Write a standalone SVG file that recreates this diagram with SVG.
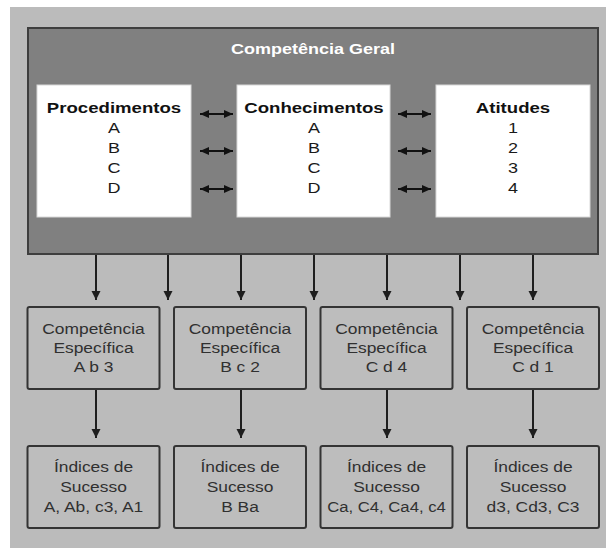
<svg xmlns="http://www.w3.org/2000/svg" width="606" height="549" viewBox="0 0 606 549">
<style>
.bg{fill:#bbbbbb}
.dark{fill:#808080;stroke:#3e3e3e;stroke-width:2}
.white{fill:#ffffff;stroke:#d8d8d8;stroke-width:1}
.box{fill:#bdbdbd;stroke:#343434;stroke-width:2}
text{font-family:"Liberation Sans",Arial,Helvetica,sans-serif;text-anchor:middle}
.title{font-size:15px;font-weight:bold;fill:#ffffff}
.head{font-size:15.5px;font-weight:bold;fill:#111}
.item{font-size:15px;fill:#1a1a1a}
.lbl{font-size:14.5px;fill:#303030}
.arr{stroke:#1e1e1e;stroke-width:2;fill:none}
.dbl{stroke:#111;stroke-width:2.2;fill:none;marker-start:url(#ah2);marker-end:url(#ah2)}
.down{marker-end:url(#ah)}
</style>
<defs>
<marker id="ah" markerUnits="userSpaceOnUse" markerWidth="9" markerHeight="10" refX="9" refY="5" orient="auto"><path d="M0,0.5 L9,5 L0,9.5 z" fill="#1e1e1e"/></marker>
<marker id="ah2" markerUnits="userSpaceOnUse" markerWidth="9" markerHeight="9" refX="9" refY="4.5" orient="auto-start-reverse"><path d="M0,0.5 L9,4.5 L0,8.5 z" fill="#111"/></marker>
</defs>
<rect class="bg" x="10" y="7" width="596" height="541"/>
<g id="competencia-geral">
<rect class="dark" x="28" y="28" width="570" height="226"/>
<text class="title" transform="translate(313,54) scale(1.2,1)">Competência Geral</text>
</g>
<g id="procedimentos">
<rect class="white" x="37" y="85" width="154" height="132"/>
<text class="head" transform="translate(114,113) scale(1.2,1)">Procedimentos</text>
<text class="item" transform="translate(114,133) scale(1.2,1)">A</text>
<text class="item" transform="translate(114,153) scale(1.2,1)">B</text>
<text class="item" transform="translate(114,173) scale(1.2,1)">C</text>
<text class="item" transform="translate(114,193) scale(1.2,1)">D</text>
</g>
<g id="conhecimentos">
<rect class="white" x="237" y="85" width="153" height="132"/>
<text class="head" transform="translate(314,113) scale(1.2,1)">Conhecimentos</text>
<text class="item" transform="translate(314,133) scale(1.2,1)">A</text>
<text class="item" transform="translate(314,153) scale(1.2,1)">B</text>
<text class="item" transform="translate(314,173) scale(1.2,1)">C</text>
<text class="item" transform="translate(314,193) scale(1.2,1)">D</text>
</g>
<g id="atitudes">
<rect class="white" x="436" y="85" width="154" height="132"/>
<text class="head" transform="translate(513,113) scale(1.2,1)">Atitudes</text>
<text class="item" transform="translate(513,133) scale(1.2,1)">1</text>
<text class="item" transform="translate(513,153) scale(1.2,1)">2</text>
<text class="item" transform="translate(513,173) scale(1.2,1)">3</text>
<text class="item" transform="translate(513,193) scale(1.2,1)">4</text>
</g>
<g id="ce1">
<rect class="box" x="27.5" y="307" width="132" height="82" rx="2"/>
<text class="lbl" transform="translate(93.5,334) scale(1.2,1)">Competência</text>
<text class="lbl" transform="translate(93.5,353) scale(1.2,1)">Específica</text>
<text class="lbl" transform="translate(93.5,372) scale(1.2,1)">A b 3</text>
</g>
<g id="ce2">
<rect class="box" x="174" y="307" width="132" height="82" rx="2"/>
<text class="lbl" transform="translate(240,334) scale(1.2,1)">Competência</text>
<text class="lbl" transform="translate(240,353) scale(1.2,1)">Específica</text>
<text class="lbl" transform="translate(240,372) scale(1.2,1)">B c 2</text>
</g>
<g id="ce3">
<rect class="box" x="320.5" y="307" width="132" height="82" rx="2"/>
<text class="lbl" transform="translate(386.5,334) scale(1.2,1)">Competência</text>
<text class="lbl" transform="translate(386.5,353) scale(1.2,1)">Específica</text>
<text class="lbl" transform="translate(386.5,372) scale(1.2,1)">C d 4</text>
</g>
<g id="ce4">
<rect class="box" x="467" y="307" width="132" height="82" rx="2"/>
<text class="lbl" transform="translate(533,334) scale(1.2,1)">Competência</text>
<text class="lbl" transform="translate(533,353) scale(1.2,1)">Específica</text>
<text class="lbl" transform="translate(533,372) scale(1.2,1)">C d 1</text>
</g>
<g id="is1">
<rect class="box" x="27.5" y="446" width="132" height="82" rx="2"/>
<text class="lbl" transform="translate(93.5,472) scale(1.2,1)">Índices de</text>
<text class="lbl" transform="translate(93.5,492) scale(1.2,1)">Sucesso</text>
<text class="lbl" transform="translate(93.5,512) scale(1.2,1)">A, Ab, c3, A1</text>
</g>
<g id="is2">
<rect class="box" x="174" y="446" width="132" height="82" rx="2"/>
<text class="lbl" transform="translate(240,472) scale(1.2,1)">Índices de</text>
<text class="lbl" transform="translate(240,492) scale(1.2,1)">Sucesso</text>
<text class="lbl" transform="translate(240,512) scale(1.2,1)">B Ba</text>
</g>
<g id="is3">
<rect class="box" x="320.5" y="446" width="132" height="82" rx="2"/>
<text class="lbl" transform="translate(386.5,472) scale(1.2,1)">Índices de</text>
<text class="lbl" transform="translate(386.5,492) scale(1.2,1)">Sucesso</text>
<text class="lbl" transform="translate(386.5,512) scale(1.15,1)">Ca, C4, Ca4, c4</text>
</g>
<g id="is4">
<rect class="box" x="467" y="446" width="132" height="82" rx="2"/>
<text class="lbl" transform="translate(533,472) scale(1.2,1)">Índices de</text>
<text class="lbl" transform="translate(533,492) scale(1.2,1)">Sucesso</text>
<text class="lbl" transform="translate(533,512) scale(1.2,1)">d3, Cd3, C3</text>
</g>
<g id="connectors">
<line class="dbl" x1="200" y1="114" x2="233" y2="114"/>
<line class="dbl" x1="200" y1="151" x2="233" y2="151"/>
<line class="dbl" x1="200" y1="189" x2="233" y2="189"/>
<line class="dbl" x1="398" y1="114" x2="431" y2="114"/>
<line class="dbl" x1="398" y1="151" x2="431" y2="151"/>
<line class="dbl" x1="398" y1="189" x2="431" y2="189"/>
<line class="arr down" x1="96" y1="255" x2="96" y2="300"/>
<line class="arr down" x1="168" y1="255" x2="168" y2="300"/>
<line class="arr down" x1="241" y1="255" x2="241" y2="300"/>
<line class="arr down" x1="314" y1="255" x2="314" y2="300"/>
<line class="arr down" x1="387" y1="255" x2="387" y2="300"/>
<line class="arr down" x1="460" y1="255" x2="460" y2="300"/>
<line class="arr down" x1="533" y1="255" x2="533" y2="300"/>
<line class="arr down" x1="96" y1="390" x2="96" y2="438"/>
<line class="arr down" x1="241" y1="390" x2="241" y2="438"/>
<line class="arr down" x1="387" y1="390" x2="387" y2="438"/>
<line class="arr down" x1="533" y1="390" x2="533" y2="438"/>
</g>
</svg>
